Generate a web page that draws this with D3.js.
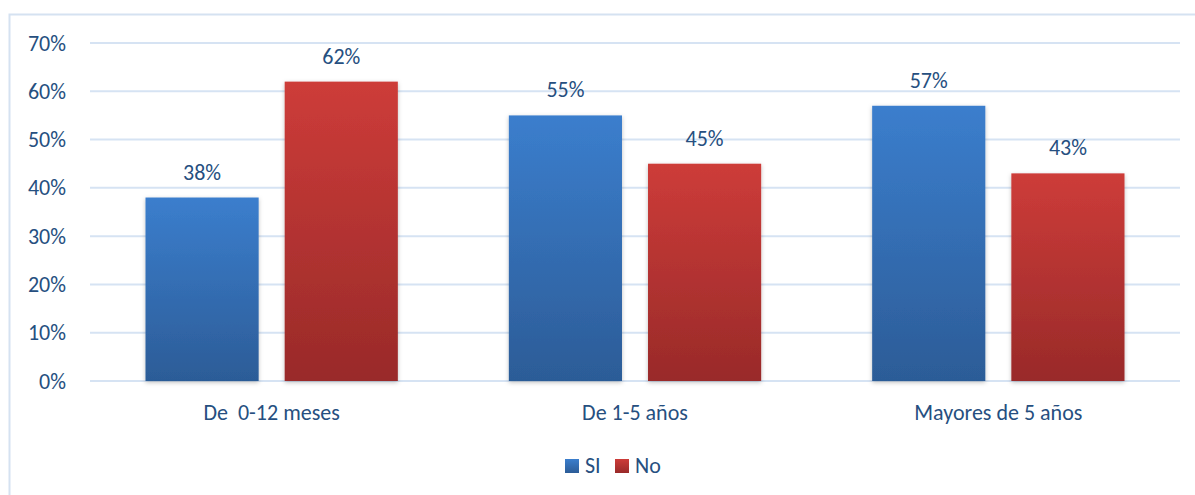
<!DOCTYPE html>
<html>
<head>
<meta charset="utf-8">
<script src="https://cdn.jsdelivr.net/npm/d3@7"></script>
<style>
  html, body { margin: 0; padding: 0; background: #fff; }
  svg { display: block; font-family: Calibri, Carlito, "Liberation Sans", "Open Sans", sans-serif; }
</style>
</head>
<body>
<svg id="chart" width="1195" height="495"></svg>
<script>
// Chart data
const categories = ["De  0-12 meses", "De 1-5 años", "Mayores de 5 años"];
const seriesNames = ["SI", "No"];
const siValues = [38, 55, 57];
const noValues = [62, 45, 43];
const yTicks = [0, 10, 20, 30, 40, 50, 60, 70];

const svg = d3.select("#chart");
const W = 1195, H = 495;
const plot = { left: 90, right: 1180, top: 43, bottom: 381 };
const textColor = "#264f80";
const fontSize = "22px";
const fontFamily = "Calibri, Carlito, 'Liberation Sans', 'Open Sans', sans-serif";

// Gradients for bars
const defs = svg.append("defs");
const grads = [
  { id: "gSi", top: "#3b7ecd", bottom: "#2c5c97" },
  { id: "gNo", top: "#cd3c39", bottom: "#992a29" }
];
grads.forEach(g => {
  const lg = defs.append("linearGradient").attr("id", g.id)
    .attr("x1", 0).attr("y1", 0).attr("x2", 0).attr("y2", 1);
  lg.append("stop").attr("offset", "0%").attr("stop-color", g.top);
  lg.append("stop").attr("offset", "100%").attr("stop-color", g.bottom);
});
const shadow = defs.append("filter").attr("id", "shadow")
  .attr("x", "-10%").attr("y", "-10%").attr("width", "120%").attr("height", "120%");
shadow.append("feDropShadow").attr("dx", 0).attr("dy", 1.5).attr("stdDeviation", 2)
  .attr("flood-color", "#000").attr("flood-opacity", 0.25);

// Chart area border
svg.append("path")
  .attr("d", `M9.5,${H} L9.5,14.5 L${W},14.5`)
  .attr("fill", "none").attr("stroke", "#d5e2f1").attr("stroke-width", 2);

// Scales
const y = d3.scaleLinear().domain([0, 70]).range([plot.bottom, plot.top]);
const x0 = d3.scaleBand().domain(categories).range([plot.left, plot.right]).paddingInner(0).paddingOuter(0);
const innerPad = 55.5;
const x1 = d3.scaleBand().domain(seriesNames)
  .range([innerPad, x0.bandwidth() - innerPad]).paddingInner(0.187);

// Gridlines
svg.append("g").selectAll("line").data(yTicks).join("line")
  .attr("x1", plot.left).attr("x2", plot.right)
  .attr("y1", d => y(d)).attr("y2", d => y(d))
  .attr("stroke", "#d6e3f3").attr("stroke-width", 2);

// Y axis labels
const yAxis = d3.axisLeft(y).tickValues(yTicks).tickFormat(d => d + "%").tickSize(0).tickPadding(0);
const yg = svg.append("g").attr("transform", `translate(66,0)`).call(yAxis);
yg.select(".domain").remove();
yg.selectAll("text").attr("fill", textColor).style("font-size", fontSize)
  .style("font-family", fontFamily);

// Bars
const rows = categories.map((c, i) => ({ cat: c, vals: [siValues[i], noValues[i]] }));
const groups = svg.append("g").selectAll("g").data(rows).join("g")
  .attr("transform", d => `translate(${x0(d.cat)},0)`);

groups.selectAll("rect").data(d => d.vals.map((v, j) => ({ s: seriesNames[j], v, j })))
  .join("rect")
  .attr("x", d => x1(d.s))
  .attr("width", x1.bandwidth())
  .attr("y", d => y(d.v))
  .attr("height", d => y(0) - y(d.v))
  .attr("fill", d => `url(#${grads[d.j].id})`)
  .attr("filter", "url(#shadow)");

groups.selectAll("text").data(d => d.vals.map((v, j) => ({ s: seriesNames[j], v })))
  .join("text")
  .attr("x", d => x1(d.s) + x1.bandwidth() / 2)
  .attr("y", d => y(d.v) - 18)
  .attr("text-anchor", "middle")
  .attr("fill", textColor)
  .style("font-size", fontSize)
  .text(d => d.v + "%");

// Category labels
const xAxis = d3.axisBottom(x0).tickSize(0).tickPadding(0);
const xg = svg.append("g").attr("transform", `translate(0,${plot.bottom})`).call(xAxis);
xg.select(".domain").remove();
xg.selectAll("text").attr("fill", textColor).style("font-size", fontSize)
  .style("font-family", fontFamily)
  .attr("y", 39).attr("dy", "0")
  .style("white-space", "pre");

// Legend
const legendItems = [
  { name: seriesNames[0], grad: grads[0].id, x: 565 },
  { name: seriesNames[1], grad: grads[1].id, x: 615 }
];
const lg = svg.append("g").selectAll("g").data(legendItems).join("g")
  .attr("transform", d => `translate(${d.x},459)`);
lg.append("rect").attr("width", 14).attr("height", 14).attr("fill", d => `url(#${d.grad})`);
lg.append("text").attr("x", 20).attr("y", 14)
  .attr("fill", textColor).style("font-size", fontSize).text(d => d.name);
</script>
</body>
</html>
